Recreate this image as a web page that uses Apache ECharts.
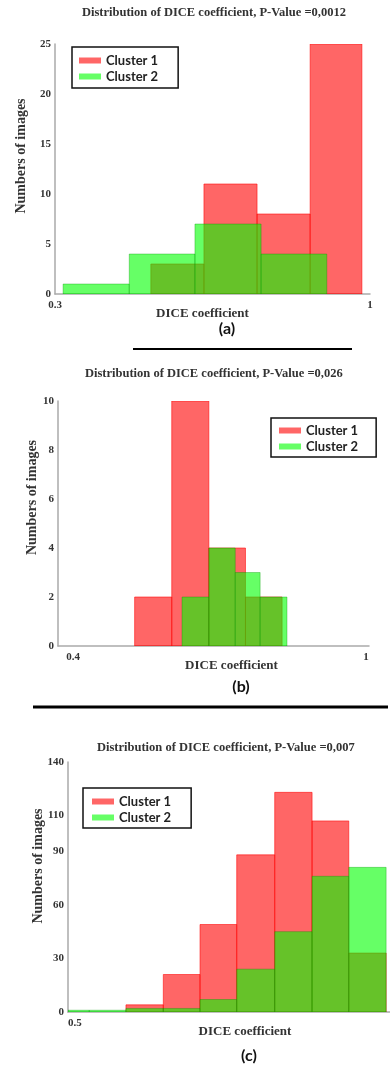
<!DOCTYPE html>
<html><head><meta charset="utf-8">
<script src="https://cdn.jsdelivr.net/npm/echarts@6/dist/echarts.min.js"></script>
<style>html,body{margin:0;padding:0;background:#fff}#c{width:390px;height:1065px}</style>
</head><body><div id="c"></div>
<script>
// ---- data ----
const titleTexts = ['Distribution of DICE coefficient, P-Value =0,0012','Distribution of DICE coefficient, P-Value =0,026','Distribution of DICE coefficient, P-Value =0,007'];
const panelLabels = ['(a)','(b)','(c)'];
const seriesNames = ['Cluster 1','Cluster 2'];

const aRedEdges = [0.513, 0.631, 0.749, 0.867, 0.982];
const aRedCounts = [3, 11, 8, 25];
const aGreenEdges = [0.318, 0.465, 0.611, 0.758, 0.904];
const aGreenCounts = [1, 4, 7, 4];
const aXTicks = [0.3, 1];
const aYTicks = [0, 5, 10, 15, 20, 25];

const bRedEdges = [0.526, 0.602, 0.678, 0.753, 0.828];
const bRedCounts = [2, 10, 4, 2];
const bGreenEdges = [0.623, 0.678, 0.732, 0.783, 0.838];
const bGreenCounts = [2, 4, 3, 2];
const bXTicks = [0.4, 1];
const bYTicks = [0, 2, 4, 6, 8, 10];

const cEdges = [0.5, 0.533, 0.590, 0.648, 0.705, 0.762, 0.821, 0.879, 0.936, 0.994];
const cRedCounts = [0, 0, 4, 21, 49, 88, 123, 107, 33];
const cGreenCounts = [1, 1, 2, 2, 7, 24, 45, 76, 81];
const cXTicks = [0.5];
const cYTicks = [0, 30, 60, 90, 110, 140];

// ---- helpers ----
function bins(edges, counts){ return counts.map((v,i)=>[edges[i], edges[i+1], v]); }
const RED_FILL = 'rgba(255,0,0,0.6)', RED_STROKE = 'rgba(255,0,0,0.55)';
const GREEN_FILL = 'rgba(0,255,0,0.6)', GREEN_STROKE = 'rgba(0,150,0,0.35)';
function render(fill, stroke){
  return function(params, api){
    const v = api.value(2);
    if (!v) return null;
    const p0 = api.coord([api.value(0), v]);
    const p1 = api.coord([api.value(1), 0]);
    return {type:'rect', shape:{x:p0[0], y:p0[1], width:p1[0]-p0[0], height:p1[1]-p0[1]},
      style:{fill:fill, stroke:stroke, lineWidth:1}};
  };
}
const serif = 'Liberation Serif';
const tickStyle = {fontFamily:serif, fontWeight:'bold', fontSize:11, color:'#333'};
const nameStyle = {fontFamily:serif, fontWeight:'bold', fontSize:14, color:'#333'};
const axisLine = {show:true, lineStyle:{color:'#aaa', width:1.5}};

function xAxis(gi, min, max, ticks, pad, alignMin){
  return {gridIndex:gi, type:'value', min:min, max:max, axisLine:axisLine, axisTick:{show:false}, splitLine:{show:false},
    axisLabel:{customValues:ticks, margin:6, ...tickStyle, alignMinLabel:alignMin||'center', formatter:v=>String(v)},
    name:'DICE coefficient', nameLocation:'middle', nameGap:13, nameMoveOverlap:false,
    nameTextStyle:{...nameStyle, fontSize:13, padding:pad}};
}
function yAxis(gi, max, ticks, gap, pad){
  return {gridIndex:gi, type:'value', min:0, max:max, axisLine:axisLine, axisTick:{show:false}, splitLine:{show:false},
    axisLabel:{customValues:ticks, margin:4, ...tickStyle},
    name:'Numbers of images', nameLocation:'middle', nameRotate:90, nameGap:gap, nameMoveOverlap:false,
    nameTextStyle:{...nameStyle, padding:pad}};
}
function legend(left, top, pad){
  return {left:left, top:top, orient:'vertical', data:seriesNames, selectedMode:false, icon:'rect',
    itemWidth:22, itemHeight:6, itemGap:3, padding:pad, borderColor:'#111', borderWidth:1.5,
    itemStyle:{borderWidth:0}, textStyle:{fontFamily:'Lato', fontWeight:'bold', fontSize:13, color:'#222'}};
}
function title(text, left, top){
  return {text:text, left:left, top:top, padding:0, textStyle:{fontFamily:serif, fontWeight:'bold', fontSize:12.5, color:'#333'}};
}
function series(name, gi, data, fill, stroke){
  return {type:'custom', name:name, xAxisIndex:gi, yAxisIndex:gi, data:data, renderItem:render(fill, stroke),
    encode:{x:[0,1], y:2}, itemStyle:{color:fill}, clip:true, silent:true};
}
function panelText(text, x, y){
  return {type:'text', x:x, y:y, style:{text:text, fontFamily:'Lato', fontWeight:'bold', fontSize:16, fill:'#111', align:'center', verticalAlign:'middle'}};
}

const option = {
  backgroundColor:'#fff',
  animation:false,
  title:[title(titleTexts[0], 82, 6), title(titleTexts[1], 85, 367), title(titleTexts[2], 97, 741)],
  legend:[legend(72, 47, [7,20,5,7]), legend(271, 418, [6,18,4,8]), legend(83, 788, [7,20,4,9])],
  grid:[
    {left:55, top:44, width:315, height:250},
    {left:58, top:401, width:311, height:245},
    {left:68, top:762, width:322, height:250}
  ],
  xAxis:[
    xAxis(0, 0.3, 1, aXTicks, [0,20,0,0]),
    xAxis(1, 0.369, 1.006, bXTicks, [0,0,0,36]),
    xAxis(2, 0.5, 1.0, cXTicks, [0,0,0,32], 'left')
  ],
  yAxis:[
    yAxis(0, 25, aYTicks, 27, [0,0,0,26]),
    yAxis(1, 10, bYTicks, 19, [0,0,0,52]),
    yAxis(2, 140, cYTicks, 23, [0,0,0,42])
  ],
  series:[
    series(seriesNames[0], 0, bins(aRedEdges, aRedCounts), RED_FILL, RED_STROKE),
    series(seriesNames[1], 0, bins(aGreenEdges, aGreenCounts), GREEN_FILL, GREEN_STROKE),
    series(seriesNames[0], 1, bins(bRedEdges, bRedCounts), RED_FILL, RED_STROKE),
    series(seriesNames[1], 1, bins(bGreenEdges, bGreenCounts), GREEN_FILL, GREEN_STROKE),
    series(seriesNames[0], 2, bins(cEdges, cRedCounts), RED_FILL, RED_STROKE),
    series(seriesNames[1], 2, bins(cEdges, cGreenCounts), GREEN_FILL, GREEN_STROKE)
  ],
  graphic:[
    panelText(panelLabels[0], 227, 329),
    panelText(panelLabels[1], 241, 687),
    panelText(panelLabels[2], 249, 1056),
    {type:'line', shape:{x1:133, y1:349, x2:352, y2:349}, style:{stroke:'#000', lineWidth:2}},
    {type:'line', shape:{x1:33, y1:707, x2:388, y2:707}, style:{stroke:'#000', lineWidth:3}}
  ]
};
const chart = echarts.init(document.getElementById('c'), null, {renderer:'canvas'});
chart.setOption(option);
</script></body></html>
